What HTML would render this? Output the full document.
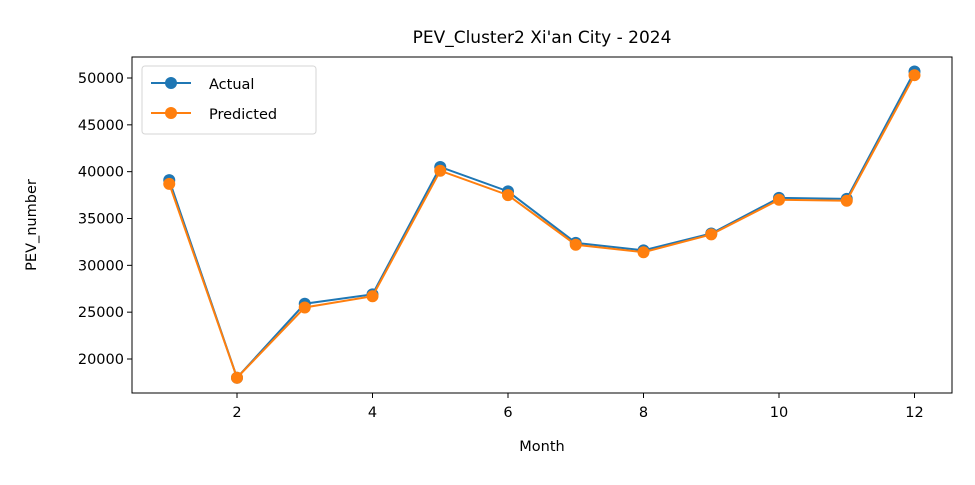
<!DOCTYPE html>
<html><head><meta charset="utf-8"><style>
body{margin:0;background:#fff;}
svg text{font-family:"DejaVu Sans","Liberation Sans",sans-serif;fill:#000;}
</style></head><body>
<svg id="chart" width="975" height="480" xmlns="http://www.w3.org/2000/svg">
<rect width="975" height="480" fill="#fff"/>
<text x="542" y="43" font-size="17" text-anchor="middle">PEV_Cluster2 Xi'an City - 2024</text>
<g id="axes"></g>
<g id="series"></g>
<rect x="132" y="57" width="820" height="336" fill="none" stroke="#000" stroke-width="1"/>
<text x="542" y="451" font-size="14.5" text-anchor="middle">Month</text>
<text transform="translate(36,225) rotate(-90)" font-size="14.5" text-anchor="middle">PEV_number</text>
<g>
<rect x="142" y="66" width="174" height="68" rx="3" fill="#fff" stroke="#ccc" opacity="0.8"/>
<line x1="151" y1="83" x2="191" y2="83" stroke="#1f77b4" stroke-width="2"/>
<circle cx="171" cy="83" r="6" fill="#1f77b4"/>
<text x="209" y="89" font-size="14.5">Actual</text>
<line x1="151" y1="113" x2="191" y2="113" stroke="#ff7f0e" stroke-width="2"/>
<circle cx="171" cy="113" r="6" fill="#ff7f0e"/>
<text x="209" y="119" font-size="14.5">Predicted</text>
</g>
</svg>
<script>
const months=[1,2,3,4,5,6,7,8,9,10,11,12];
const actual=[39100,18000,25900,26900,40500,37900,32400,31600,33400,37200,37100,50700];
const predicted=[38700,18000,25500,26700,40100,37500,32200,31400,33300,37000,36900,50300];
const xTicks=[2,4,6,8,10,12];
const yTicks=[20000,25000,30000,35000,40000,45000,50000];
const NS="http://www.w3.org/2000/svg";
const xs=m=>237+(m-2)*67.75;
const ys=v=>359-(v-20000)*(281/30000);
const axes=document.getElementById('axes');
function mk(t,a,p){const e=document.createElementNS(NS,t);for(const k in a)e.setAttribute(k,a[k]);p.appendChild(e);return e;}
xTicks.forEach(t=>{
 const l=mk('line',{x1:xs(t),x2:xs(t),y1:393,y2:398,stroke:'#000'},axes);
 
 
 const tx=mk('text',{x:xs(t),y:417,'font-size':'14.5','text-anchor':'middle'},axes);tx.textContent=t;
 
 
});
yTicks.forEach(t=>{
 const l=mk('line',{x1:127,x2:132,y1:ys(t),y2:ys(t),stroke:'#000'},axes);
 
 
 const tx=mk('text',{x:124,y:ys(t)+5,'font-size':'14.5','text-anchor':'end'},axes);tx.textContent=t;
 
 
});
const sg=document.getElementById('series');
[[actual,'#1f77b4','actual'],[predicted,'#ff7f0e','predicted']].forEach(([d,c,n])=>{
 const pl=mk('polyline',{points:d.map((v,i)=>xs(months[i])+','+ys(v)).join(' '),fill:'none',stroke:c,'stroke-width':2},sg);
 
 
 d.forEach((v,i)=>{
  const p=mk('circle',{cx:xs(months[i]),cy:ys(v),r:6,fill:c},sg);
  
  
 });
});
</script>
</body></html>
